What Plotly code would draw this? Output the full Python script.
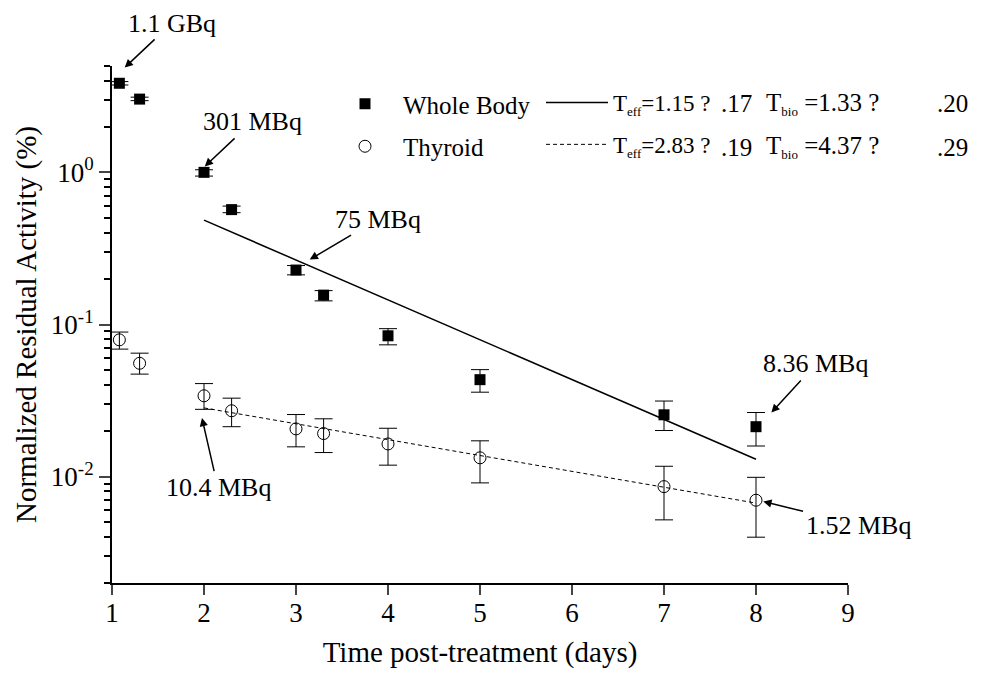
import numpy as np
import plotly.graph_objects as go

# ---------------- data ----------------
days = [1.08, 1.3, 2.0, 2.3, 3.0, 3.3, 4.0, 5.0, 7.0, 8.0]

wb_vals = [3.85, 3.03, 1.00, 0.569, 0.228, 0.156, 0.0843, 0.0434, 0.0255, 0.0213]
wb_hi = [3.95, 3.12, 1.04, 0.600, 0.244, 0.167, 0.0939, 0.0505, 0.0314, 0.0264]
wb_lo = [3.75, 2.96, 0.945, 0.543, 0.212, 0.143, 0.0735, 0.0359, 0.0201, 0.0159]

thy_vals = [0.0793, 0.0556, 0.0340, 0.0271, 0.0206, 0.0192, 0.0164, 0.0133, 0.0086, 0.0070]
thy_hi = [0.0892, 0.0648, 0.0409, 0.0328, 0.0256, 0.0240, 0.0208, 0.0172, 0.0117, 0.0099]
thy_lo = [0.0689, 0.0472, 0.0277, 0.0213, 0.0157, 0.0144, 0.0119, 0.0091, 0.0052, 0.0040]

fit_days = [2.0, 8.0]
wb_fit = [0.485, 0.0130]
thy_fit = [0.0283, 0.0067]

x_ticks = [1, 2, 3, 4, 5, 6, 7, 8, 9]
y_ticks = [1, 0.1, 0.01]
y_ticktext = ["10<sup>0</sup>", "10<sup>-1</sup>", "10<sup>-2</sup>"]

# annotations: text, arrow head (day, value), text centre (px)
labels = ["1.1 GBq", "301 MBq", "75 MBq", "10.4 MBq", "8.36 MBq", "1.52 MBq"]
arrow_days = [1.138, 2.008, 3.149, 1.978, 8.167, 8.079]
arrow_vals = [4.88, 1.094, 0.267, 0.0243, 0.0264, 0.00687]
label_px = [(172, 23), (252, 122), (378, 219), (218, 488), (816, 364), (858, 525)]

# legend half-life texts
def sub(s):
    return "<sub><span style='font-size:13px'>" + s + "</span></sub>"
teff_text = ["T" + sub("eff") + "=1.15 ?", "T" + sub("eff") + "=2.83 ?"]
teff_err = [".17", ".19"]
tbio_text = ["T" + sub("bio") + " =1.33 ?", "T" + sub("bio") + " =4.37 ?"]
tbio_err = [".20", ".29"]

# ---------------- figure ----------------
W, H = 985, 673
L, R, T, B = 112, 137, 66, 90
PW, PH = W - L - R, H - T - B
FONT = "Liberation Serif"
FS = 25
LFS = 25

def px2paper(px, py):
    return (px - L) / PW, (H - B - py) / PH

fig = go.Figure()

def err(vals, hi, lo):
    v = np.array(vals)
    return dict(type="data", symmetric=False,
                array=list(np.array(hi) - v), arrayminus=list(v - np.array(lo)),
                color="black", thickness=1, width=9)

fig.add_trace(go.Scatter(
    x=days, y=wb_vals, mode="markers", name="Whole Body",
    marker=dict(symbol="square", size=11, color="black"),
    error_y=err(wb_vals, wb_hi, wb_lo), legend="legend", legendgroup="a"))
fig.add_trace(go.Scatter(
    x=days, y=thy_vals, mode="markers", name="Thyroid",
    marker=dict(symbol="circle-open", size=12, color="black", line=dict(width=1)),
    error_y=err(thy_vals, thy_hi, thy_lo), legend="legend", legendgroup="b"))
fig.add_trace(go.Scatter(
    x=fit_days, y=wb_fit, mode="lines", name=teff_text[0],
    line=dict(color="black", width=1.5), legend="legend2", legendgroup="c"))
fig.add_trace(go.Scatter(
    x=fit_days, y=thy_fit, mode="lines", name=teff_text[1],
    line=dict(color="black", width=1, dash="4px,3px"), legend="legend2", legendgroup="d"))

def data2px(d, v):
    px = L + (d - 1) / 8 * PW
    py = T + (np.log10(5) - np.log10(v)) / (np.log10(5) - np.log10(0.002)) * PH
    return px, py

annotations = []
for txt, ad, av, (tx, ty) in zip(labels, arrow_days, arrow_vals, label_px):
    hx, hy = data2px(ad, av)
    annotations.append(dict(x=ad, y=np.log10(av), xref="x", yref="y",
                            ax=tx - hx, ay=ty - hy, axref="pixel", ayref="pixel",
                            text=txt, showarrow=True, arrowhead=2, arrowsize=1.1,
                            arrowwidth=1.5, arrowcolor="black", startstandoff=2,
                            borderpad=0,
                            font=dict(family=FONT, size=26, color="black")))

row_y = [104, 147]
for i in range(2):
    for txt, xpx in ((teff_err[i], 720), (tbio_text[i], 765), (tbio_err[i], 936)):
        px_, py_ = px2paper(xpx, row_y[i])
        annotations.append(dict(x=px_, y=py_, xref="paper", yref="paper", text=txt,
                                showarrow=False, xanchor="left", yanchor="middle",
                                borderpad=0,
                                font=dict(family=FONT, size=LFS, color="black")))

minor_vals = []
for e in range(-3, 1):
    for m in range(2, 10):
        v = m * 10.0 ** e
        if 0.002 <= v <= 5.0001:
            minor_vals.append(v)

lx1, ly1 = px2paper(327, 81)
lx2, ly2 = px2paper(541, 81)

fig.update_layout(
    width=W, height=H,
    margin=dict(l=L, r=R, t=T, b=B, autoexpand=False),
    paper_bgcolor="white", plot_bgcolor="white",
    font=dict(family=FONT, size=FS, color="black"),
    showlegend=True,
    legend=dict(x=lx1, y=ly1, xanchor="left", yanchor="top", bgcolor="rgba(0,0,0,0)",
                itemwidth=66, tracegroupgap=7, font=dict(family=FONT, size=FS),
                itemclick=False),
    legend2=dict(x=lx2, y=ly2, xanchor="left", yanchor="top", bgcolor="rgba(0,0,0,0)",
                 itemwidth=62, tracegroupgap=9, font=dict(family=FONT, size=23),
                 itemclick=False),
    annotations=annotations,
    xaxis=dict(range=[1, 9], tickvals=x_ticks, ticks="outside", ticklen=10, tickwidth=1.5,
               showline=True, linecolor="black", linewidth=2, showgrid=False, zeroline=False,
               ticklabelstandoff=-5,
               title=dict(text="Time post-treatment (days)", font=dict(family=FONT, size=29),
                          standoff=14),
               tickfont=dict(family=FONT, size=27)),
    yaxis=dict(type="log", range=[np.log10(0.002), np.log10(5)], tickvals=y_ticks,
               ticktext=y_ticktext, ticks="outside", ticklen=11, tickwidth=1.5,
               minor=dict(tickvals=minor_vals, ticks="outside", ticklen=6, tickwidth=1.5,
                          tickcolor="black", showgrid=False),
               showline=True, linecolor="black", linewidth=2, showgrid=False, zeroline=False,
               title=dict(text="Normalized Residual Activity (%)",
                          font=dict(family=FONT, size=29), standoff=6),
               tickfont=dict(family=FONT, size=27)),
)

fig.write_html("out.html", config={"displayModeBar": False},
               post_script="document.body.style.margin='0';document.body.style.overflow='hidden';")
